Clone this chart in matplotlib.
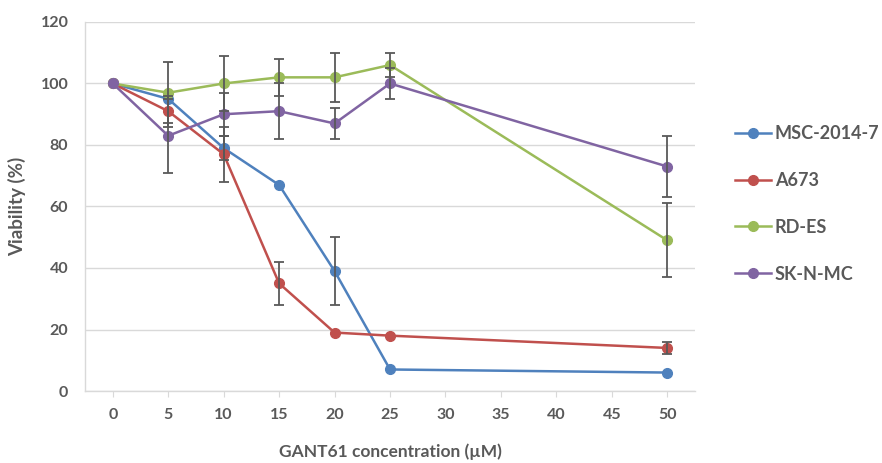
import numpy as np
import matplotlib
matplotlib.use("Agg")
import matplotlib.pyplot as plt
from matplotlib.lines import Line2D

# concentrations (uM) and viability (%) per cell line
conc = [0, 5, 10, 15, 20, 25, 50]
msc = [100, 95, 79, 67, 39, 7, 6]
msc_err = [0, 0, 4, 0, 11, 0, 0]
a673 = [100, 91, 77, 35, 19, 18, 14]
a673_err = [0, 5, 9, 7, 0, 0, 2]
rdes = [100, 97, 100, 102, 102, 106, 49]
rdes_err = [0, 10, 9, 6, 8, 4, 12]
sknmc = [100, 83, 90, 91, 87, 100, 73]
sknmc_err = [0, 12, 7, 9, 5, 5, 10]

names = ["MSC-2014-7", "A673", "RD-ES", "SK-N-MC"]
colors = ["#4F81BD", "#C0504D", "#9BBB59", "#8064A2"]
xticks = [0, 5, 10, 15, 20, 25, 30, 35, 40, 45, 50]

plt.rcParams['font.family'] = ['Lato', 'DejaVu Sans']
text_col = "#595959"

fig = plt.figure(figsize=(8.82, 4.63), dpi=100)
ax = fig.add_axes([0.0964, 0.1555, 0.6916, 0.797])

series = [(msc, msc_err), (a673, a673_err), (rdes, rdes_err), (sknmc, sknmc_err)]
for (vals, err), name, c in zip(series, names, colors):
    ax.plot(conc, vals, color=c, lw=1.8, marker='o', ms=7, label=name, zorder=3)
    x_e = [x for x, e in zip(conc, err) if e > 0]
    y_e = [v for v, e in zip(vals, err) if e > 0]
    e_e = [e for e in err if e > 0]
    ax.errorbar(x_e, y_e, yerr=e_e, fmt='none', ecolor="#595959",
                elinewidth=1.3, capsize=3.5, capthick=1.3, zorder=4)

ax.set_xlim(-2.5, 52.5)
ax.set_ylim(0, 120)
ax.set_yticks(np.arange(0, 121, 20))
ax.set_xticks(xticks)
ax.grid(axis='y', color="#D9D9D9", lw=1)
ax.set_axisbelow(True)
for s in ['top', 'right']:
    ax.spines[s].set_visible(False)
for s in ['left', 'bottom']:
    ax.spines[s].set_color("#D9D9D9")
    ax.spines[s].set_linewidth(1)
ax.tick_params(axis='y', length=0, pad=12, labelsize=11.5, labelcolor=text_col)
ax.tick_params(axis='x', length=4, color="#D9D9D9", pad=8, labelsize=11.5, labelcolor=text_col)
for lab in ax.get_xticklabels() + ax.get_yticklabels():
    lab.set_fontweight('bold')

ax.set_xlabel("GANT61 concentration (\u00b5M)", fontsize=12.5, fontweight='bold',
              color=text_col, labelpad=16)
ax.set_ylabel("Viability (%)", fontsize=13.5, fontweight='bold', color=text_col, labelpad=10)

handles = [Line2D([0], [0], color=c, lw=1.8, marker='o', ms=7) for c in colors]
leg = ax.legend(handles, names, loc='center left', bbox_to_anchor=(1.066, 0.507),
                frameon=False, prop={'size': 13, 'weight': 'bold'},
                borderpad=0, borderaxespad=0,
                labelspacing=1.65, handlelength=2.0, handletextpad=0.2)
for t in leg.get_texts():
    t.set_color(text_col)

fig.savefig("out.png", dpi=100)
